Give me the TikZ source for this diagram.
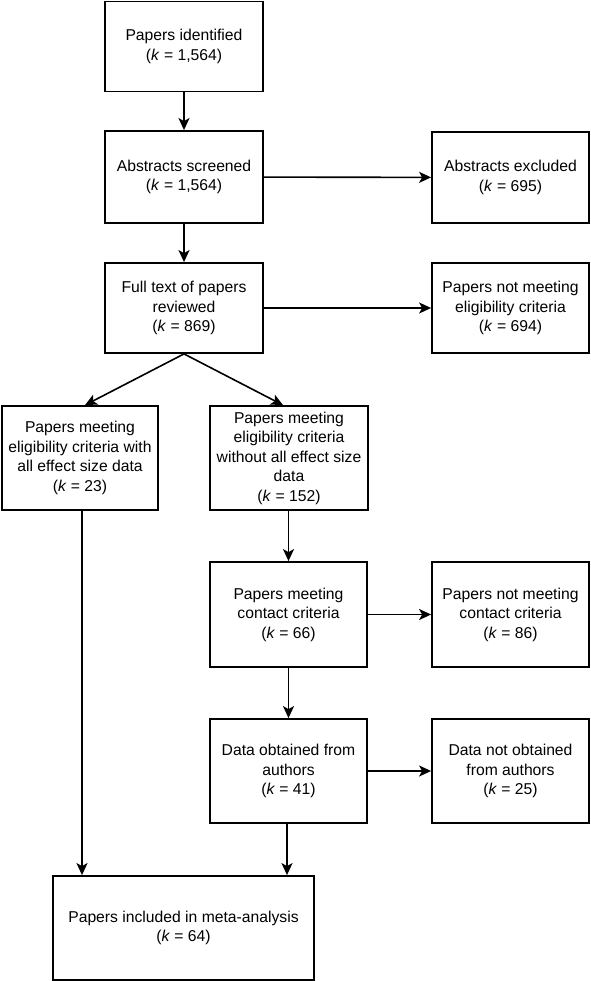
\documentclass[tikz,border=0pt]{standalone}
\usepackage{fontspec}
\setmainfont{Liberation Sans}
\usetikzlibrary{arrows.meta}
\begin{document}
\begin{tikzpicture}[x=1pt,y=-1pt,
  box/.style={draw=black,line width=1.8pt,fill=white,align=center,inner sep=2pt,
    font=\fontsize{15.7}{19.5}\selectfont},
  conn/.style={line width=1.6pt,-{Stealth[length=12pt,width=11pt,inset=3pt]}}]
\path[fill=white] (0,0) rectangle (590,981);
\useasboundingbox (0,0) rectangle (590,981);
\node[box,minimum width=158pt,minimum height=90pt] (n1) at (184,46.5) {Papers identified\\(\textit{k} = 1,564)};
\node[box,minimum width=158pt,minimum height=92pt] (n2) at (184,177) {Abstracts screened\\(\textit{k} = 1,564)};
\node[box,minimum width=157pt,minimum height=91pt] (n3) at (510.5,177.5) {Abstracts excluded\\(\textit{k} = 695)};
\node[box,minimum width=158pt,minimum height=90pt] (n4) at (184,308) {Full text of papers\\reviewed\\(\textit{k} = 869)};
\node[box,minimum width=157pt,minimum height=90pt] (n5) at (510.5,308) {Papers not meeting\\eligibility criteria\\(\textit{k} = 694)};
\node[box,minimum width=156pt,minimum height=104pt] (n6) at (80,458) {Papers meeting\\eligibility criteria with\\all effect size data\\(\textit{k} = 23)};
\node[box,minimum width=158pt,minimum height=104pt] (n7) at (289,458) {Papers meeting\\eligibility criteria\\without all effect size\\data\\(\textit{k} = 152)};
\node[box,minimum width=157pt,minimum height=105pt] (n8) at (288.5,614.5) {Papers meeting\\contact criteria\\(\textit{k} = 66)};
\node[box,minimum width=157pt,minimum height=105pt] (n9) at (510.5,614.5) {Papers not meeting\\contact criteria\\(\textit{k} = 86)};
\node[box,minimum width=157pt,minimum height=104pt] (n10) at (288.5,771) {Data obtained from\\authors\\(\textit{k} = 41)};
\node[box,minimum width=157pt,minimum height=104pt] (n11) at (510.5,771) {Data not obtained\\from authors\\(\textit{k} = 25)};
\node[box,minimum width=261pt,minimum height=104pt] (n12) at (183.5,928) {Papers included in meta-analysis\\(\textit{k} = 64)};
\draw[conn] (n1) -- (n2);
\draw[conn] (n2) -- (n3);
\draw[conn] (n2) -- (n4);
\draw[conn] (n4.east) -- (n4.east -| n5.west);
\draw[conn] (n4.south) -- ([xshift=5pt]n6.north);
\draw[conn] (n4.south) -- ([xshift=-6pt]n7.north);
\draw[conn] (n7.south -| n8.north) -- (n8.north);
\draw[conn] (n8.east) -- (n9.west);
\draw[conn] (n8) -- (n10);
\draw[conn] (n10.east) -- (n11.west);
\draw[conn] ([xshift=2pt]n6.south) -- ([xshift=2pt]n6.south |- n12.north);
\draw[conn] ([xshift=-1.5pt]n10.south) -- ([xshift=-1.5pt]n10.south |- n12.north);
\end{tikzpicture}
\end{document}
